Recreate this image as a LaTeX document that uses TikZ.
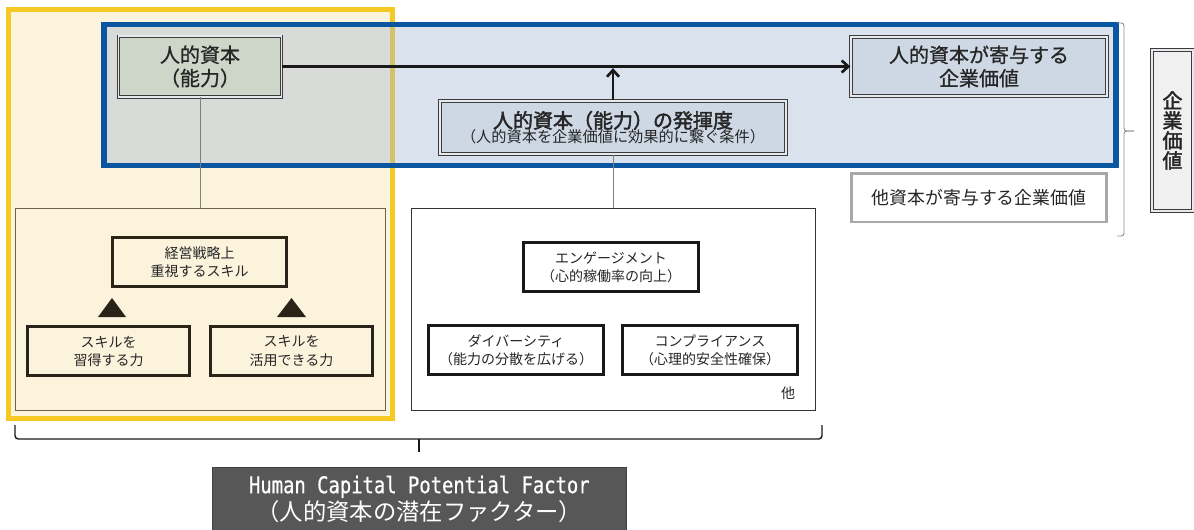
\documentclass[tikz,border=0pt]{standalone}
\usepackage{fontspec}
\setmainfont{Noto Sans CJK JP}
\newfontfamily\jpmid[FakeBold=0.9]{Noto Sans CJK JP}
\newfontfamily\jpbold[FakeBold=2.2]{Noto Sans CJK JP}
\newfontfamily\monocond[FakeStretch=0.82,FakeBold=0.6]{DejaVu Sans Mono}
\usetikzlibrary{arrows.meta}
\definecolor{ybord}{HTML}{F6C823}
\definecolor{cream}{HTML}{FCF3DC}
\definecolor{bbord}{HTML}{0A56A0}
\definecolor{bfill}{HTML}{A2B9D2}
\definecolor{capline}{HTML}{3C3C3C}
\definecolor{capgap}{HTML}{E6EAEE}
\definecolor{capfillg}{HTML}{CED6CA}
\definecolor{capfillb}{HTML}{CDD8E4}
\definecolor{txt}{HTML}{262626}
\definecolor{skline}{HTML}{2A2418}
\definecolor{subline}{HTML}{6B6250}
\definecolor{greybord}{HTML}{A8A8A8}
\definecolor{darkbox}{HTML}{575757}
\begin{document}
\begin{tikzpicture}[x=0.75pt,y=-0.75pt,
  capbox/.style={draw=capline, double=capgap, double distance=1.3pt, line width=0.7pt,
    align=center, inner sep=0pt, text=txt},
  titlefont/.style={font=\jpmid\fontsize{15}{17.5}\selectfont},
  skillbox/.style={draw=skline, line width=2.2pt, align=center, inner sep=0pt, text=txt,
    font=\fontsize{10.5}{13.5}\selectfont, minimum height=36.75pt},
  factorbox/.style={draw=black!90, line width=2.2pt, fill=white, align=center, inner sep=0pt, text=txt,
    font=\fontsize{10.5}{13.5}\selectfont, minimum width=131.25pt, minimum height=36.75pt},
  conn/.style={draw=black!50, line width=0.75pt},
  mainarrow/.style={draw=black!90, line width=2pt, -{Straight Barb[length=5pt,width=9pt]}},
  brace/.style={draw=black!45, line width=0.7pt, rounded corners=2pt},
  bbrace/.style={draw=black!90, line width=1.1pt, rounded corners=2.5pt},
]
\useasboundingbox (0,0) rectangle (1194,529);
\clip (0,0) rectangle (1194,529);

% yellow area
\draw[draw=ybord, fill=cream, line width=3.75pt] (8.5,9.5) rectangle (392.5,418);

% lower sub boxes
\node[draw=subline, line width=0.75pt, minimum width=277.5pt, minimum height=151.5pt, inner sep=0pt] (lsub) at (200,309) {};
\node[draw=black!80, fill=white, line width=0.75pt, minimum width=303pt, minimum height=151.5pt, inner sep=0pt] (rsub) at (613,309) {};

% skill boxes
\node[skillbox, minimum width=130.5pt] (s1) at (199.5,262) {経営戦略上\\重視するスキル};
\node[skillbox, minimum width=121.5pt] (s2) at (108.5,351) {スキルを\\習得する力};
\node[skillbox, minimum width=121.5pt] (s3) at (291.5,351) {スキルを\\活用できる力};
\fill[skline] (98,317) -- (126,317) -- (112,298) -- cycle;
\fill[skline] (277,317) -- (306,317) -- (291.5,298) -- cycle;

% factor boxes
\node[factorbox] (f1) at (611,267) {エンゲージメント\\（心的稼働率の向上）};
\node[factorbox] (f2) at (516,350) {ダイバーシティ\\（能力の分散を広げる）};
\node[factorbox] (f3) at (710,350) {コンプライアンス\\（心理的安全性確保）};
\node[text=txt, font=\fontsize{10.5}{12}\selectfont, inner sep=0pt] (other) at (788,393) {他};

% blue area
\fill[bfill, fill opacity=0.4] (104,24.5) rectangle (1116,165.5);
\draw[draw=bbord, line width=4.1pt] (104,24.5) rectangle (1116,165.5);

% top nodes
\node[capbox, titlefont, fill=capfillg, minimum width=122.25pt, minimum height=45.3pt] (cap) at (200,66.5) {人的資本\\（能力）};
\node[capbox, titlefont, fill=capfillb, minimum width=192.3pt, minimum height=44.5pt] (val) at (979,66.5) {人的資本が寄与する\\企業価値};
\node[capbox, fill=capfillb, minimum width=259.8pt, minimum height=40pt] (hak) at (613,127.5)
  {{\jpbold\fontsize{15}{17.5}\selectfont 人的資本（能力）の発揮度}\\[-1pt]{\fontsize{11.4}{13}\selectfont （人的資本を企業価値に効果的に繋ぐ条件）}};
\node[draw=greybord, line width=1.9pt, fill=white, minimum width=191.6pt, minimum height=36.4pt, inner sep=0pt,
  text=txt, font=\fontsize{13.4}{15}\selectfont] (oth) at (979,197.5) {他資本が寄与する企業価値};
\node[capbox, fill=black!6, minimum width=31pt, minimum height=121pt, font=\jpbold\fontsize{15}{15}\selectfont] (kig) at (1172.5,130.5) {企\\業\\価\\値};

% connectors
\draw[conn] (cap.south) -- (lsub.north);
\draw[conn] (hak.south) -- (rsub.north);
\draw[mainarrow] (cap.east) -- (val.west);
\draw[mainarrow, shorten >=1.2pt] (hak.north) -- (hak.north |- cap.east);

% right brace
\draw[brace] (1117,23) -- (1124,23) -- (1124,131) -- (1134,131);
\draw[brace] (1134,131) -- (1124,131) -- (1124,236) -- (1117,236);

% bottom brace
\draw[bbrace] (15,425) -- (15,439) -- (822,439) -- (822,425);
\draw[draw=black!90, line width=1.1pt] (419,439) -- (419,452);

% bottom dark box
\node[draw=black!75, fill=darkbox, line width=0.75pt, minimum width=310pt, minimum height=47pt, inner sep=0pt,
  align=center, text=white, font=\fontsize{17.5}{20.25}\selectfont] (hcpf) at (419.35,499)
  {{\monocond\fontsize{17.25}{20.25}\selectfont Human Capital Potential Factor}\\（人的資本の潜在ファクター）};
\end{tikzpicture}
\end{document}
